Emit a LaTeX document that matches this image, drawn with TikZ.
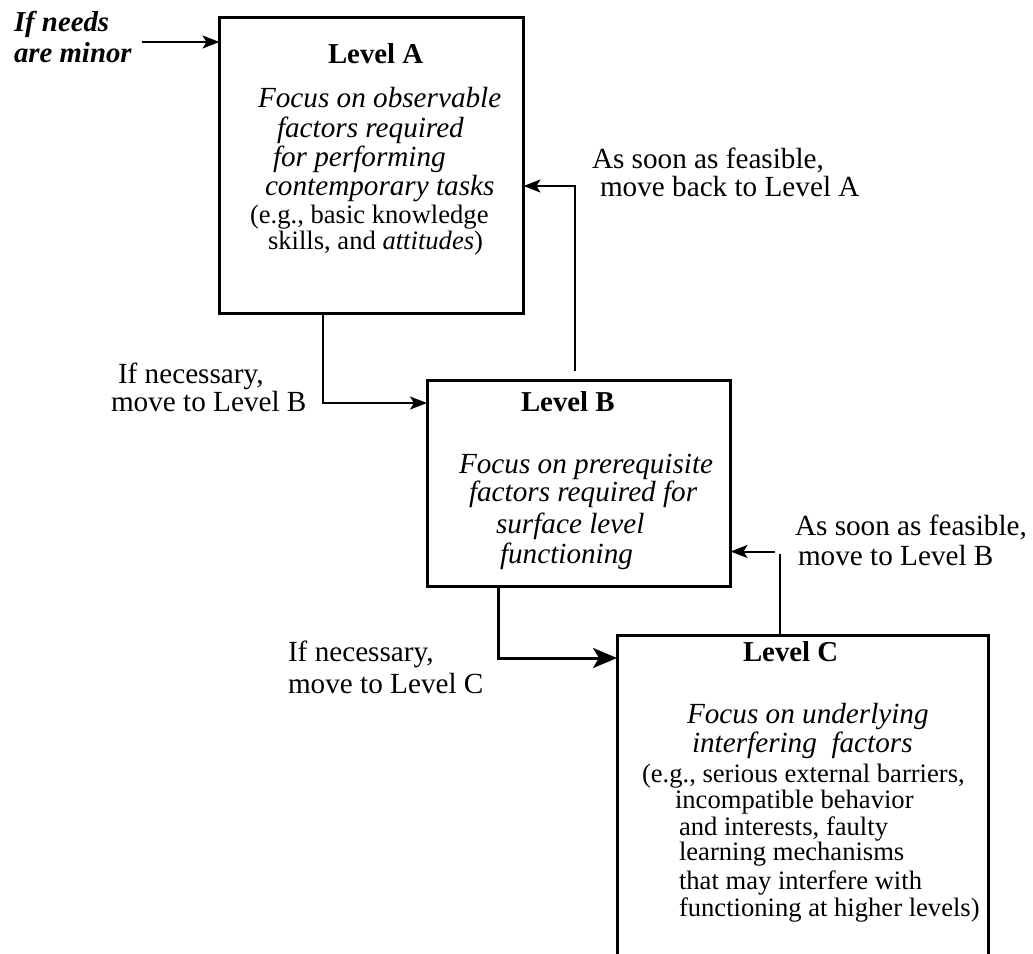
\documentclass[tikz,border=0pt]{standalone}
\usepackage{fontspec}
\setmainfont{Liberation Serif}
\usetikzlibrary{arrows.meta}
\begin{document}
\begin{tikzpicture}[x=0.5pt,y=-0.5pt,
  box/.style={draw, line width=1.5pt, inner sep=0pt, outer sep=0pt},
  txt/.style={anchor=base west, inner sep=0pt, outer sep=0pt},
  lbl/.style={txt, font=\fontsize{14.6pt}{17pt}\selectfont},
  ttl/.style={txt, font=\fontsize{14.4pt}{17pt}\selectfont\bfseries},
  itx/.style={txt, font=\fontsize{14.6pt}{17pt}\selectfont\itshape},
  rtx/.style={txt, font=\fontsize{13.3pt}{16pt}\selectfont},
  bitx/.style={txt, font=\fontsize{14.4pt}{17pt}\selectfont\bfseries\itshape},
  conn/.style={line width=1pt},
  arr/.style={conn, -{Stealth[length=8.5pt,width=6.5pt,inset=2pt]}},
  bigarr/.style={line width=1.5pt, -{Stealth[length=12pt,width=10pt,inset=3pt]}},
]
\path[use as bounding box] (0,0) rectangle (1033,953);
\clip (0,0) rectangle (1033,953);

% the three level boxes (Level C runs past the lower edge)
\node[box, minimum width=152pt, minimum height=148.25pt] (A) at (371.5,165.25) {};
\node[box, minimum width=151.75pt, minimum height=102.75pt] (B) at (578.75,483.25) {};
\node[box, minimum width=185.75pt, minimum height=182.25pt] (C) at (802.75,817.75) {};

% Level A contents
\node[ttl] (tA) at (328,63) {Level A};
\node[itx] (a1) at (258,107) {Focus on observable};
\node[itx] (a2) at (277,137) {factors required};
\node[itx] (a3) at (273,166) {for performing};
\node[itx] (a4) at (265,195) {contemporary tasks};
\node[rtx] (a5) at (250,223) {(e.g., basic knowledge};
\node[rtx] (a6) at (268,249) {skills, and \textit{attitudes})};

% Level B contents
\node[ttl] (tB) at (521,411.7) {Level B};
\node[itx] (b1) at (459,473) {Focus on prerequisite};
\node[itx] (b2) at (469,501.7) {factors required for};
\node[itx] (b3) at (496,533) {surface level};
\node[itx] (b4) at (500,563) {functioning};

% Level C contents
\node[ttl] (tC) at (743,661) {Level C};
\node[itx] (c1) at (687,723) {Focus on underlying};
\node[itx] (c2) at (692,752) {interfering\ \ factors};
\node[rtx] (c3) at (642,782) {(e.g., serious external barriers,};
\node[rtx] (c4) at (675,808.5) {incompatible behavior};
\node[rtx] (c5) at (679,835) {and interests, faulty};
\node[rtx] (c6) at (679,860.5) {learning mechanisms};
\node[rtx] (c7) at (679,889) {that may interfere with};
\node[rtx] (c8) at (679,916) {functioning at higher levels)};

% entry label
\node[bitx] (m1) at (14,31.7) {If needs};
\node[bitx] (m2) at (14,62.3) {are minor};

% transition labels
\node[lbl] (la1) at (592,168) {As soon as feasible,};
\node[lbl] (la2) at (600,196.5) {move back to Level A};
\node[lbl] (lb1) at (118,383.5) {If necessary,};
\node[lbl] (lb2) at (111,411.7) {move to Level B};
\node[lbl] (lc1) at (795,535.6) {As soon as feasible,};
\node[lbl] (lc2) at (798,565.5) {move to Level B};
\node[lbl] (ld1) at (288,661.7) {If necessary,};
\node[lbl] (ld2) at (288,693) {move to Level C};

% bend and end points of the connectors
\coordinate (in) at (141.7,42);
\coordinate (ab) at (323,403);
\coordinate (ba) at (575,186);
\coordinate (bc) at (498.5,658);
\coordinate (cb) at (780,554);
\coordinate (cbt) at (775,551.5);

% connectors
\draw[arr] (in) -- (A.west |- in);
\draw[arr] (A.south -| ab) |- (B.west |- ab);
\draw[arr] (ba |- B.north) ++(0,-9.5) |- (A.east |- ba);
\draw[bigarr] (B.south -| bc) |- (C.west |- bc);
\draw[conn] (C.north -| cb) -- (cb);
\draw[arr] (cbt) -- (B.east |- cbt);
\end{tikzpicture}
\end{document}
